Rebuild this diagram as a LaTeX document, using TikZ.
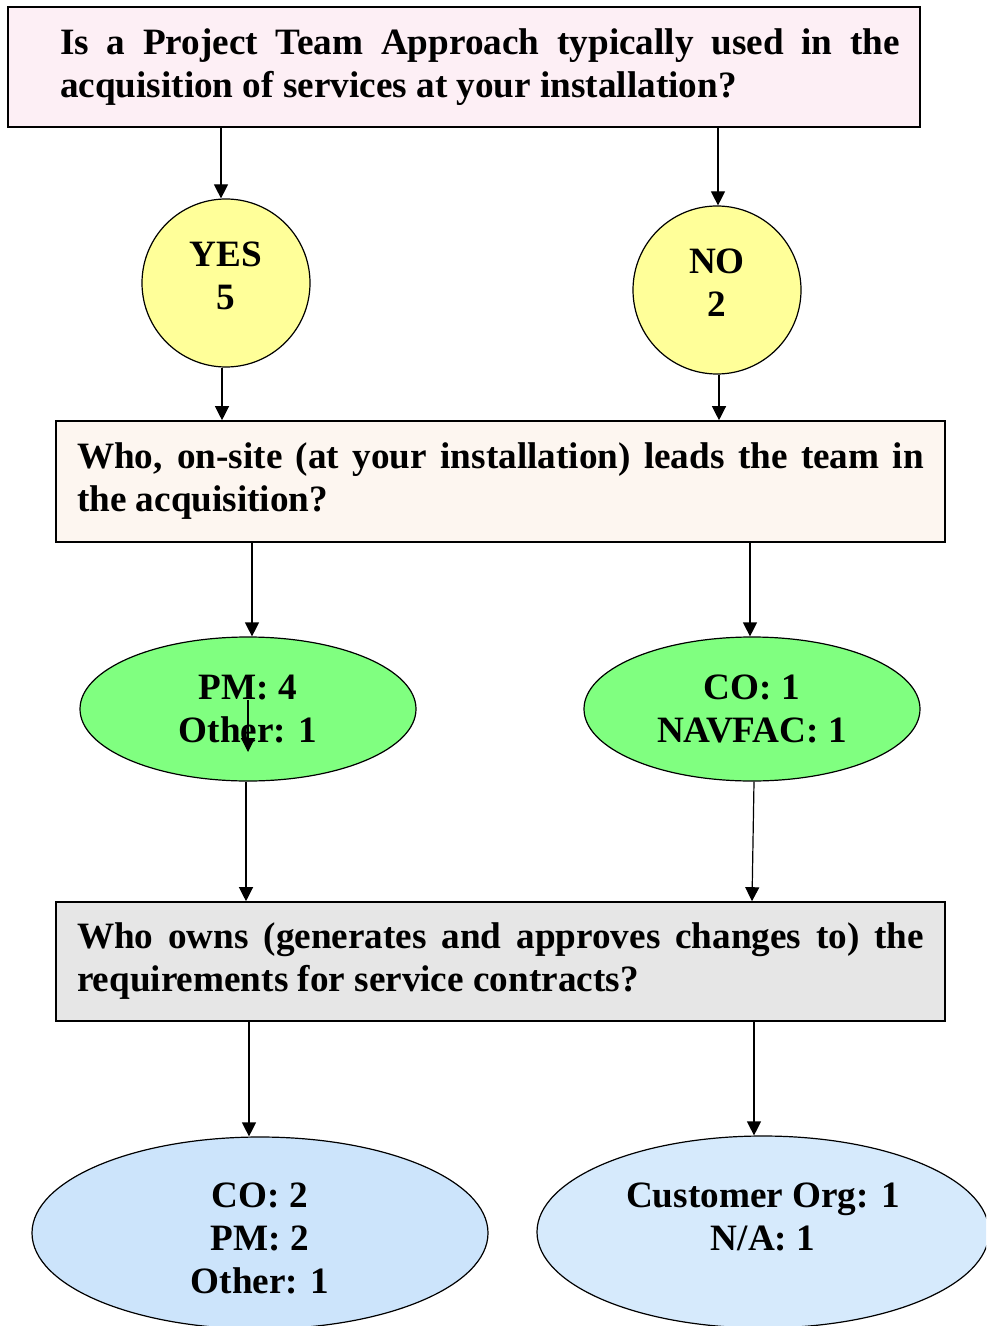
\documentclass[tikz,border=0pt]{standalone}
\usepackage{fontspec}
\setmainfont{Liberation Serif}
\usetikzlibrary{arrows.meta,shapes.geometric}
\definecolor{qpink}{RGB}{253,239,245}
\definecolor{qcream}{RGB}{253,246,240}
\definecolor{qgray}{RGB}{230,230,230}
\definecolor{ansyellow}{RGB}{255,255,153}
\definecolor{ansgreen}{RGB}{128,255,128}
\definecolor{ansblue}{RGB}{204,228,251}
\definecolor{ansblueb}{RGB}{214,234,252}

\begin{document}
\begin{tikzpicture}[x=0.5pt,y=-0.5pt,
    font=\fontsize{18.6}{21.5}\selectfont\bfseries,
    qbox/.style={draw, line width=0.8pt, rectangle, align=justify, inner ysep=0pt},
    ansround/.style={draw, line width=0.6pt, circle, fill=ansyellow, minimum size=84pt, inner sep=0pt},
    ansoval/.style={draw, line width=0.6pt, ellipse, inner sep=0pt, align=center},
    anstext/.style={align=center, inner sep=0pt},
    arr/.style={-{Triangle[width=7pt,length=7pt]}, line width=0.6pt}]
\clip (0,0) rectangle (986,1326);
% questions
\node[qbox, fill=qpink, text width=436pt, inner xsep=10pt, minimum height=60pt] (q1) at (464,67)
    {\hyphenpenalty=10000 \hspace*{16pt}Is a Project Team Approach typically used in the\linebreak
     \hspace*{16pt}acquisition of services at your installation?};
\node[qbox, fill=qcream, text width=423.5pt, inner xsep=10.5pt, minimum height=60.5pt] (q2) at (500.5,481.5)
    {\hyphenpenalty=10000 Who, on-site (at your installation) leads the team in\linebreak the acquisition?};
\node[qbox, fill=qgray, text width=423.5pt, inner xsep=10.5pt, minimum height=59.5pt] (q3) at (500.5,961.5)
    {\hyphenpenalty=10000 Who owns (generates and approves changes to) the\linebreak requirements for service contracts?};
% answers
\node[ansround, label={[anstext, yshift=3.5pt]center:YES\\5}] (yes) at (226,283) {};
\node[ansround, label={[anstext, yshift=3.5pt]center:NO\\2}] (no) at (717,290) {};
\node[ansoval, fill=ansgreen, minimum width=168pt, minimum height=72pt] (pm) at (248,709) {PM: 4\\Other: 1};
\node[ansoval, fill=ansgreen, minimum width=168pt, minimum height=72pt] (co) at (752,709) {CO: 1\\NAVFAC: 1};
\node[ansoval, fill=ansblue, minimum width=228pt, minimum height=96pt,
      label={[anstext, yshift=-2.5pt]center:CO: 2\\PM: 2\\Other: 1}] (own) at (260,1233) {};
\node[ansoval, fill=ansblueb, minimum width=226pt, minimum height=96pt,
      label={[anstext, yshift=7.5pt]center:Customer Org: 1\\N/A: 1}] (cust) at (763,1232) {};
% connectors
\draw[arr] (q1.south -| 221,0) -- (yes.north -| 221,0);
\draw[arr] (q1.south -| 718,0) -- (no.north -| 718,0);
\draw[arr] (yes.south -| 222,0) -- (q2.north -| 222,0);
\draw[arr] (no.south -| 719,0) -- (q2.north -| 719,0);
\draw[arr] (q2.south -| 252,0) -- (pm.north -| 252,0);
\draw[arr] (q2.south -| 750,0) -- (co.north -| 750,0);
\coordinate (stray1) at (248,700);
\coordinate (stray2) at (248,752);
\draw[arr] (stray1) -- (stray2);
\draw[arr] (pm.south -| 246,0) -- (q3.north -| 246,0);
\draw[arr] (co.south -| 754,0) -- (q3.north -| 752,0);
\draw[arr] (q3.south -| 249,0) -- (own.north -| 249,0);
\draw[arr] (q3.south -| 754,0) -- (cust.north -| 754,0);
\end{tikzpicture}
\end{document}
